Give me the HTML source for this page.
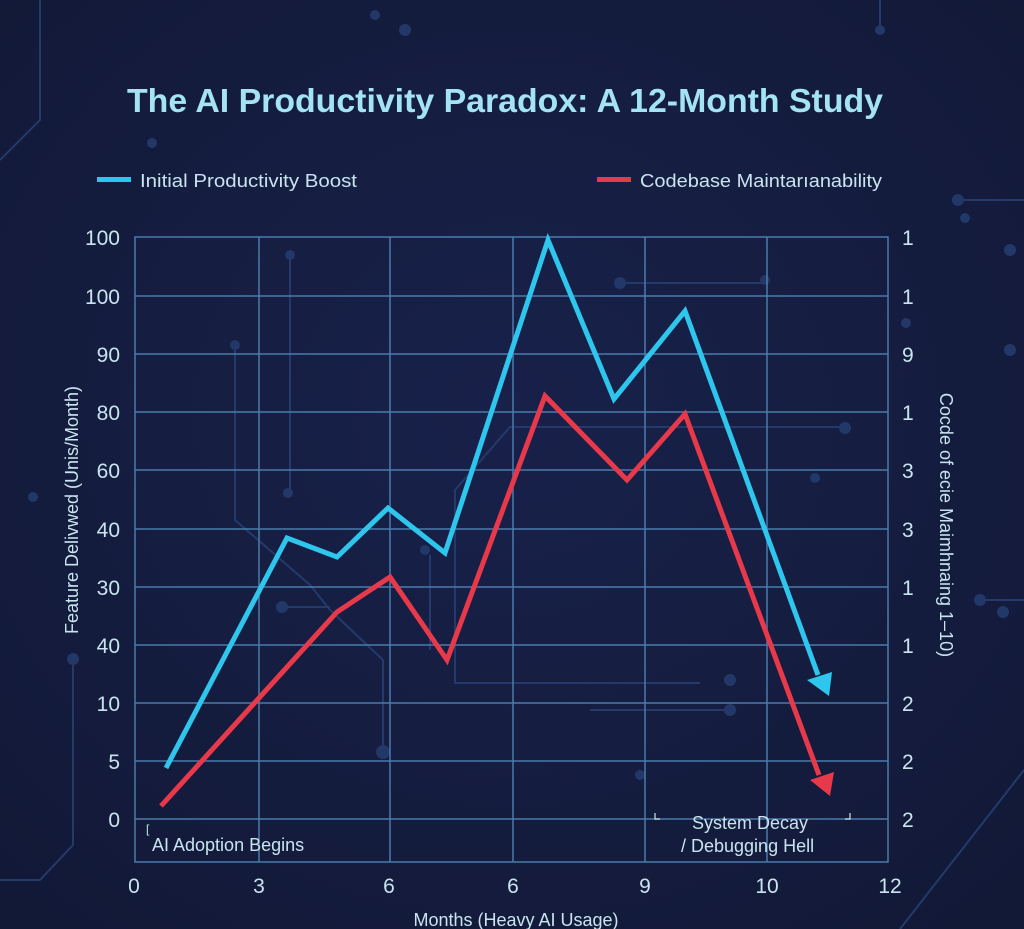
<!DOCTYPE html>
<html><head><meta charset="utf-8"><style>
html,body{margin:0;padding:0;background:#151c3c;}
svg{display:block}
text{font-family:"Liberation Sans",sans-serif;}
</style></head><body>
<svg width="1024" height="929" viewBox="0 0 1024 929" xmlns="http://www.w3.org/2000/svg">
<defs>
<radialGradient id="bg" cx="50%" cy="45%" r="70%"><stop offset="0" stop-color="#18214a"/><stop offset="1" stop-color="#121937"/></radialGradient>
</defs>
<rect width="1024" height="929" fill="url(#bg)"/>
<g stroke="#233a6b" stroke-width="2" fill="none">
<path d="M0 160 L40 120 L40 0"/><path d="M0 880 L40 880 L73 845 L73 660"/>
<path d="M1024 200 L960 200"/><path d="M1024 600 L980 600"/>
<path d="M290 255 L290 490"/><path d="M235 345 L235 520 L310 585 L330 610 L383 660 L383 750"/>
<path d="M282 607 L330 607"/><path d="M455 490 L510 427 L850 427"/>
<path d="M455 490 L455 683 L700 683"/><path d="M430 650 L430 555"/>
<path d="M590 710 L730 710"/><path d="M620 283 L765 283"/>
<path d="M1024 770 L900 929"/><path d="M880 0 L880 30"/>
</g>
<g fill="#223868">
<circle cx="290" cy="255" r="5"/><circle cx="235" cy="345" r="5"/><circle cx="288" cy="493" r="5"/>
<circle cx="282" cy="607" r="6"/><circle cx="383" cy="752" r="7"/><circle cx="425" cy="550" r="5"/>
<circle cx="620" cy="283" r="6"/><circle cx="765" cy="280" r="5"/><circle cx="730" cy="710" r="6"/>
<circle cx="730" cy="680" r="6"/><circle cx="845" cy="428" r="6"/><circle cx="815" cy="478" r="5"/>
<circle cx="73" cy="659" r="6"/><circle cx="33" cy="497" r="5"/><circle cx="152" cy="143" r="5"/>
<circle cx="405" cy="30" r="6"/><circle cx="958" cy="200" r="6"/><circle cx="965" cy="218" r="5"/>
<circle cx="1003" cy="612" r="6"/><circle cx="980" cy="600" r="6"/><circle cx="1010" cy="350" r="6"/>
<circle cx="906" cy="323" r="5"/><circle cx="1010" cy="250" r="6"/><circle cx="640" cy="775" r="5"/>
<circle cx="375" cy="15" r="5"/><circle cx="880" cy="30" r="5"/>
</g>
<g stroke="#4a7bab" stroke-width="1.5" fill="none">
<rect x="135" y="237" width="753" height="625"/>
<path d="M135 296H888M135 354H888M135 412H888M135 470H888M135 529H888M135 587H888M135 645H888M135 703H888M135 761H888M135 819H888"/>
<path d="M259 237V862M390 237V862M513 237V862M645 237V862M767 237V862"/>
</g>
<text x="505" y="112" text-anchor="middle" font-size="33" font-weight="bold" fill="#a4e3f3" textLength="756" lengthAdjust="spacingAndGlyphs">The AI Productivity Paradox: A 12-Month Study</text>
<rect x="97" y="177" width="34" height="5" fill="#2fc6ee"/>
<text x="140" y="187" font-size="18" fill="#c9e4ef" textLength="217" lengthAdjust="spacingAndGlyphs">Initial Productivity Boost</text>
<rect x="597" y="177" width="34" height="5" fill="#e8394a"/>
<text x="640" y="187" font-size="18" fill="#c9e4ef" textLength="242" lengthAdjust="spacingAndGlyphs">Codebase Maintarıanability</text>
<g font-size="21" fill="#c9e4ef" text-anchor="end">
<text x="120" y="245">100</text><text x="120" y="304">100</text><text x="120" y="362">90</text>
<text x="120" y="420">80</text><text x="120" y="478">60</text><text x="120" y="537">40</text>
<text x="120" y="595">30</text><text x="120" y="653">40</text><text x="120" y="711">10</text>
<text x="120" y="769">5</text><text x="120" y="827">0</text>
</g>
<g font-size="21" fill="#c9e4ef">
<text x="902" y="245">1</text><text x="902" y="304">1</text><text x="902" y="362">9</text>
<text x="902" y="420">1</text><text x="902" y="478">3</text><text x="902" y="537">3</text>
<text x="902" y="595">1</text><text x="902" y="653">1</text><text x="902" y="711">2</text>
<text x="902" y="769">2</text><text x="902" y="827">2</text>
</g>
<g font-size="21" fill="#c9e4ef" text-anchor="middle">
<text x="134" y="893">0</text><text x="259" y="893">3</text><text x="389" y="893">6</text>
<text x="513" y="893">6</text><text x="645" y="893">9</text><text x="767" y="893">10</text><text x="890" y="893">12</text>
</g>
<text x="516" y="926" font-size="18" fill="#c9e4ef" text-anchor="middle">Months (Heavy AI Usage)</text>
<text transform="translate(78,510) rotate(-90)" font-size="18" fill="#c9e4ef" text-anchor="middle">Feature Delivwed (Unis/Month)</text>
<text transform="translate(940,525) rotate(90)" font-size="18" fill="#c9e4ef" text-anchor="middle">Cocde of ecie  Maimhnaing 1–10)</text>
<text x="152" y="851" font-size="18" fill="#c9e4ef">AI Adoption Begins</text>
<text x="146" y="833" font-size="12" fill="#c9e4ef">[</text>
<text x="692" y="829" font-size="18" fill="#c9e4ef">System Decay</text>
<text x="681" y="852" font-size="18" fill="#c9e4ef">/ Debugging Hell</text>
<path d="M655 813v6h5M850 813v6h-5" stroke="#c9e4ef" stroke-width="1.2" fill="none"/>
<polyline points="166,768 287,538 337,557 388,508 445,553 548,240 614,399 685,311 818,675" fill="none" stroke="#2fc6ee" stroke-width="5" stroke-linejoin="miter"/>
<polygon points="829,696 807,680 832,672" fill="#2fc6ee"/>
<polyline points="161,806 337,612 390,577 447,660 545,396 627,480 685,414 819,775" fill="none" stroke="#e8394a" stroke-width="5" stroke-linejoin="miter"/>
<polygon points="830,796 810,780 834,772" fill="#e8394a"/>
</svg>
</body></html>
